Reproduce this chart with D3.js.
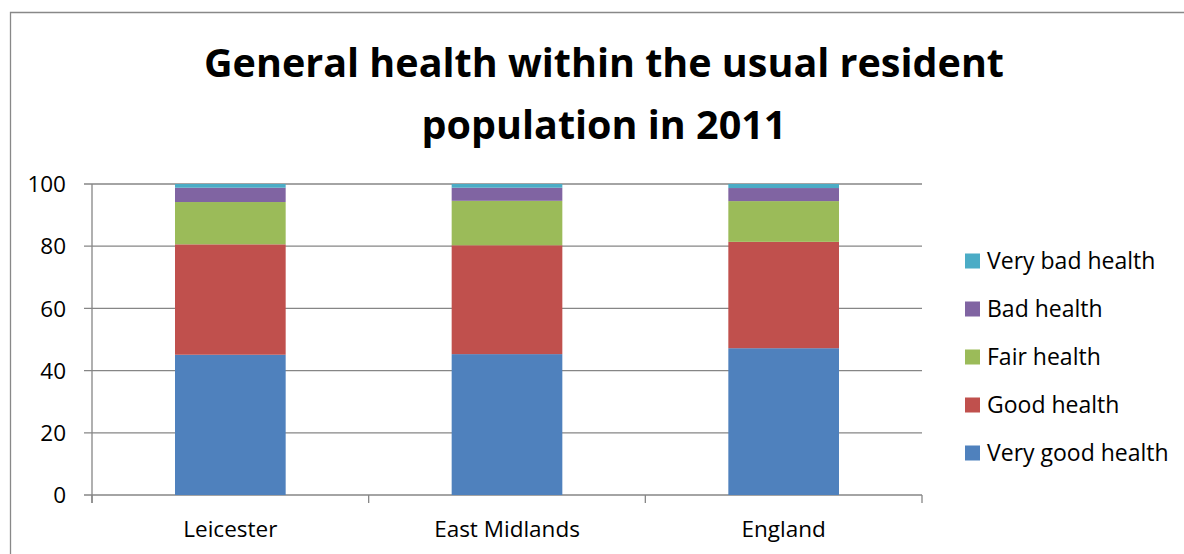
<!DOCTYPE html>
<html><head><meta charset="utf-8">
<script src="https://cdn.jsdelivr.net/npm/d3@7"></script>
<style>body{margin:0;background:#fff}svg{display:block}text{font-family:"Open Sans",sans-serif}</style>
</head><body><svg id="c" width="1184" height="554"></svg>
<script>
const categories = ["Leicester","East Midlands","England"];
const seriesNames = ["Very good health","Good health","Fair health","Bad health","Very bad health"];
const veryGood = [45.1, 45.3, 47.2];
const good = [35.5, 35.0, 34.2];
const fair = [13.6, 14.3, 13.1];
const bad = [4.6, 4.2, 4.2];
const veryBad = [1.2, 1.2, 1.3];
const yTicks = [0,20,40,60,80,100];
const colors = ["#4F81BD","#C0504D","#9BBB59","#8064A2","#4BACC6"];

const rows = categories.map((c,i)=>({cat:c,"Very good health":veryGood[i],"Good health":good[i],"Fair health":fair[i],"Bad health":bad[i],"Very bad health":veryBad[i]}));
const stack = d3.stack().keys(seriesNames)(rows);

const svg = d3.select("#c");
svg.append("path").attr("d","M10.5,560 V12.5 H1190").attr("fill","none").attr("stroke","#888").attr("stroke-width",1.3);

const t = svg.append("text").attr("text-anchor","middle").attr("font-weight","bold").attr("font-size",39.5).attr("fill","#000");
t.append("tspan").attr("x",604).attr("y",77).text("General health within the usual resident");
t.append("tspan").attr("x",604).attr("y",139).text("population in 2011");

const x = d3.scaleBand().domain(categories).range([92,922]).paddingInner(0.6).paddingOuter(0.3);
const y = d3.scaleLinear().domain([0,100]).range([495,184]);

svg.append("g").selectAll("line").data(yTicks).join("line")
  .attr("x1",84).attr("x2",922).attr("y1",d=>y(d)).attr("y2",d=>y(d))
  .attr("stroke","#868686").attr("stroke-width",1.3);

svg.append("g").selectAll("g").data(stack).join("g").attr("fill",(d,i)=>colors[i])
  .selectAll("rect").data(d=>d).join("rect")
  .attr("x",d=>x(d.data.cat)).attr("width",x.bandwidth())
  .attr("y",d=>y(d[1])).attr("height",d=>y(d[0])-y(d[1]));

svg.append("line").attr("x1",92).attr("x2",92).attr("y1",184).attr("y2",503).attr("stroke","#868686").attr("stroke-width",1.3);
const step = x.step();
const b0 = x.range()[0];
svg.append("g").selectAll("line").data(d3.range(categories.length+1)).join("line")
  .attr("x1",i=>b0+i*step).attr("x2",i=>b0+i*step).attr("y1",495).attr("y2",503)
  .attr("stroke","#868686").attr("stroke-width",1.3);

svg.append("g").selectAll("text").data(yTicks).join("text")
  .attr("x",66).attr("y",d=>y(d)).attr("dy","0.36em").attr("text-anchor","end")
  .attr("font-size",22.5).attr("fill","#000").text(d=>d);

svg.append("g").selectAll("text").data(categories).join("text")
  .attr("x",d=>x(d)+x.bandwidth()/2).attr("y",537).attr("text-anchor","middle")
  .attr("font-size",22.5).attr("fill","#000").text(d=>d);

const legendOrder = seriesNames.slice().reverse();
const lg = svg.append("g").selectAll("g").data(legendOrder).join("g")
  .attr("transform",(d,i)=>`translate(965,${261+i*48})`);
lg.append("rect").attr("x",0).attr("y",-7.5).attr("width",15).attr("height",15)
  .attr("fill",d=>colors[seriesNames.indexOf(d)]);
lg.append("text").attr("x",22).attr("dy","0.36em").attr("font-size",23).attr("fill","#000").text(d=>d);
</script></body></html>
